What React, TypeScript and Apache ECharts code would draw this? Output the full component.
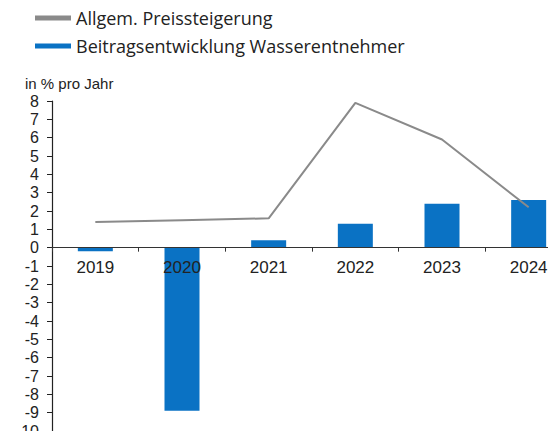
import React, { useEffect, useRef } from "react";
import * as echarts from "echarts";

const years = ["2019", "2020", "2021", "2022", "2023", "2024"];
const preisSteigerung = [1.4, 1.5, 1.6, 7.9, 5.9, 2.2];
const beitragsEntwicklung = [-0.2, -8.9, 0.4, 1.3, 2.4, 2.6];
const yMin = -10;
const yMax = 8;
const lineName = "Allgem. Preissteigerung";
const barName = "Beitragsentwicklung Wasserentnehmer";

const GRID_TOP = 101;
const GRID_BOTTOM = 8;
const CHART_H = 439;

export default function App() {
  const ref = useRef<HTMLDivElement>(null);
  useEffect(() => {
    if (!ref.current) return;
    const chart = echarts.init(ref.current, null, { renderer: "svg" });
    const font = "'Liberation Sans', Arial, sans-serif";
    const gridH = CHART_H - GRID_TOP - GRID_BOTTOM;
    const zeroFromBottom = (-yMin / (yMax - yMin)) * gridH;
    chart.setOption({
      animation: false,
      textStyle: { fontFamily: font },
      legend: {
        data: [lineName, barName],
        orient: "vertical",
        left: 30,
        top: 4,
        itemWidth: 36,
        itemHeight: 5,
        itemGap: 10,
        icon: "rect",
        textStyle: { fontSize: 18, color: "#222", fontFamily: "'Open Sans', 'Noto Sans', sans-serif" },
      },
      graphic: [
        {
          type: "text",
          left: 25,
          top: 76,
          style: { text: "in % pro Jahr", fontSize: 15, fill: "#222", fontFamily: font },
        },
      ],
      grid: {
        left: 52,
        top: GRID_TOP,
        width: 520,
        bottom: GRID_BOTTOM,
        containLabel: false,
        outerBoundsMode: "none",
      },
      xAxis: {
        type: "category",
        data: years,
        z: 5,
        position: "bottom",
        offset: -zeroFromBottom,
        axisLine: { onZero: false, lineStyle: { color: "#333", width: 1.2 } },
        axisTick: { show: true, length: 4, lineStyle: { color: "#333" } },
        axisLabel: { fontSize: 17, color: "#222", margin: 11, fontFamily: font },
        splitLine: { show: false },
      },
      yAxis: {
        type: "value",
        min: yMin,
        max: yMax,
        interval: 1,
        axisLine: { show: true, lineStyle: { color: "#222", width: 1.2 } },
        axisTick: { show: true, length: 5, inside: false, lineStyle: { color: "#222" } },
        axisLabel: { fontSize: 16, color: "#222", margin: 13, fontFamily: font },
        splitLine: { show: false },
      },
      series: [
        {
          name: barName,
          type: "bar",
          data: beitragsEntwicklung,
          barWidth: 35,
          itemStyle: { color: "#0a72c4" },
          z: 2,
        },
        {
          name: lineName,
          type: "line",
          data: preisSteigerung,
          showSymbol: false,
          symbol: "none",
          lineStyle: { color: "#8a8a8a", width: 2 },
          itemStyle: { color: "#8a8a8a" },
          z: 4,
        },
      ],
    });
    return () => chart.dispose();
  }, []);
  return <div ref={ref} style={{ width: 556, height: 439, margin: -8 }} />;
}
